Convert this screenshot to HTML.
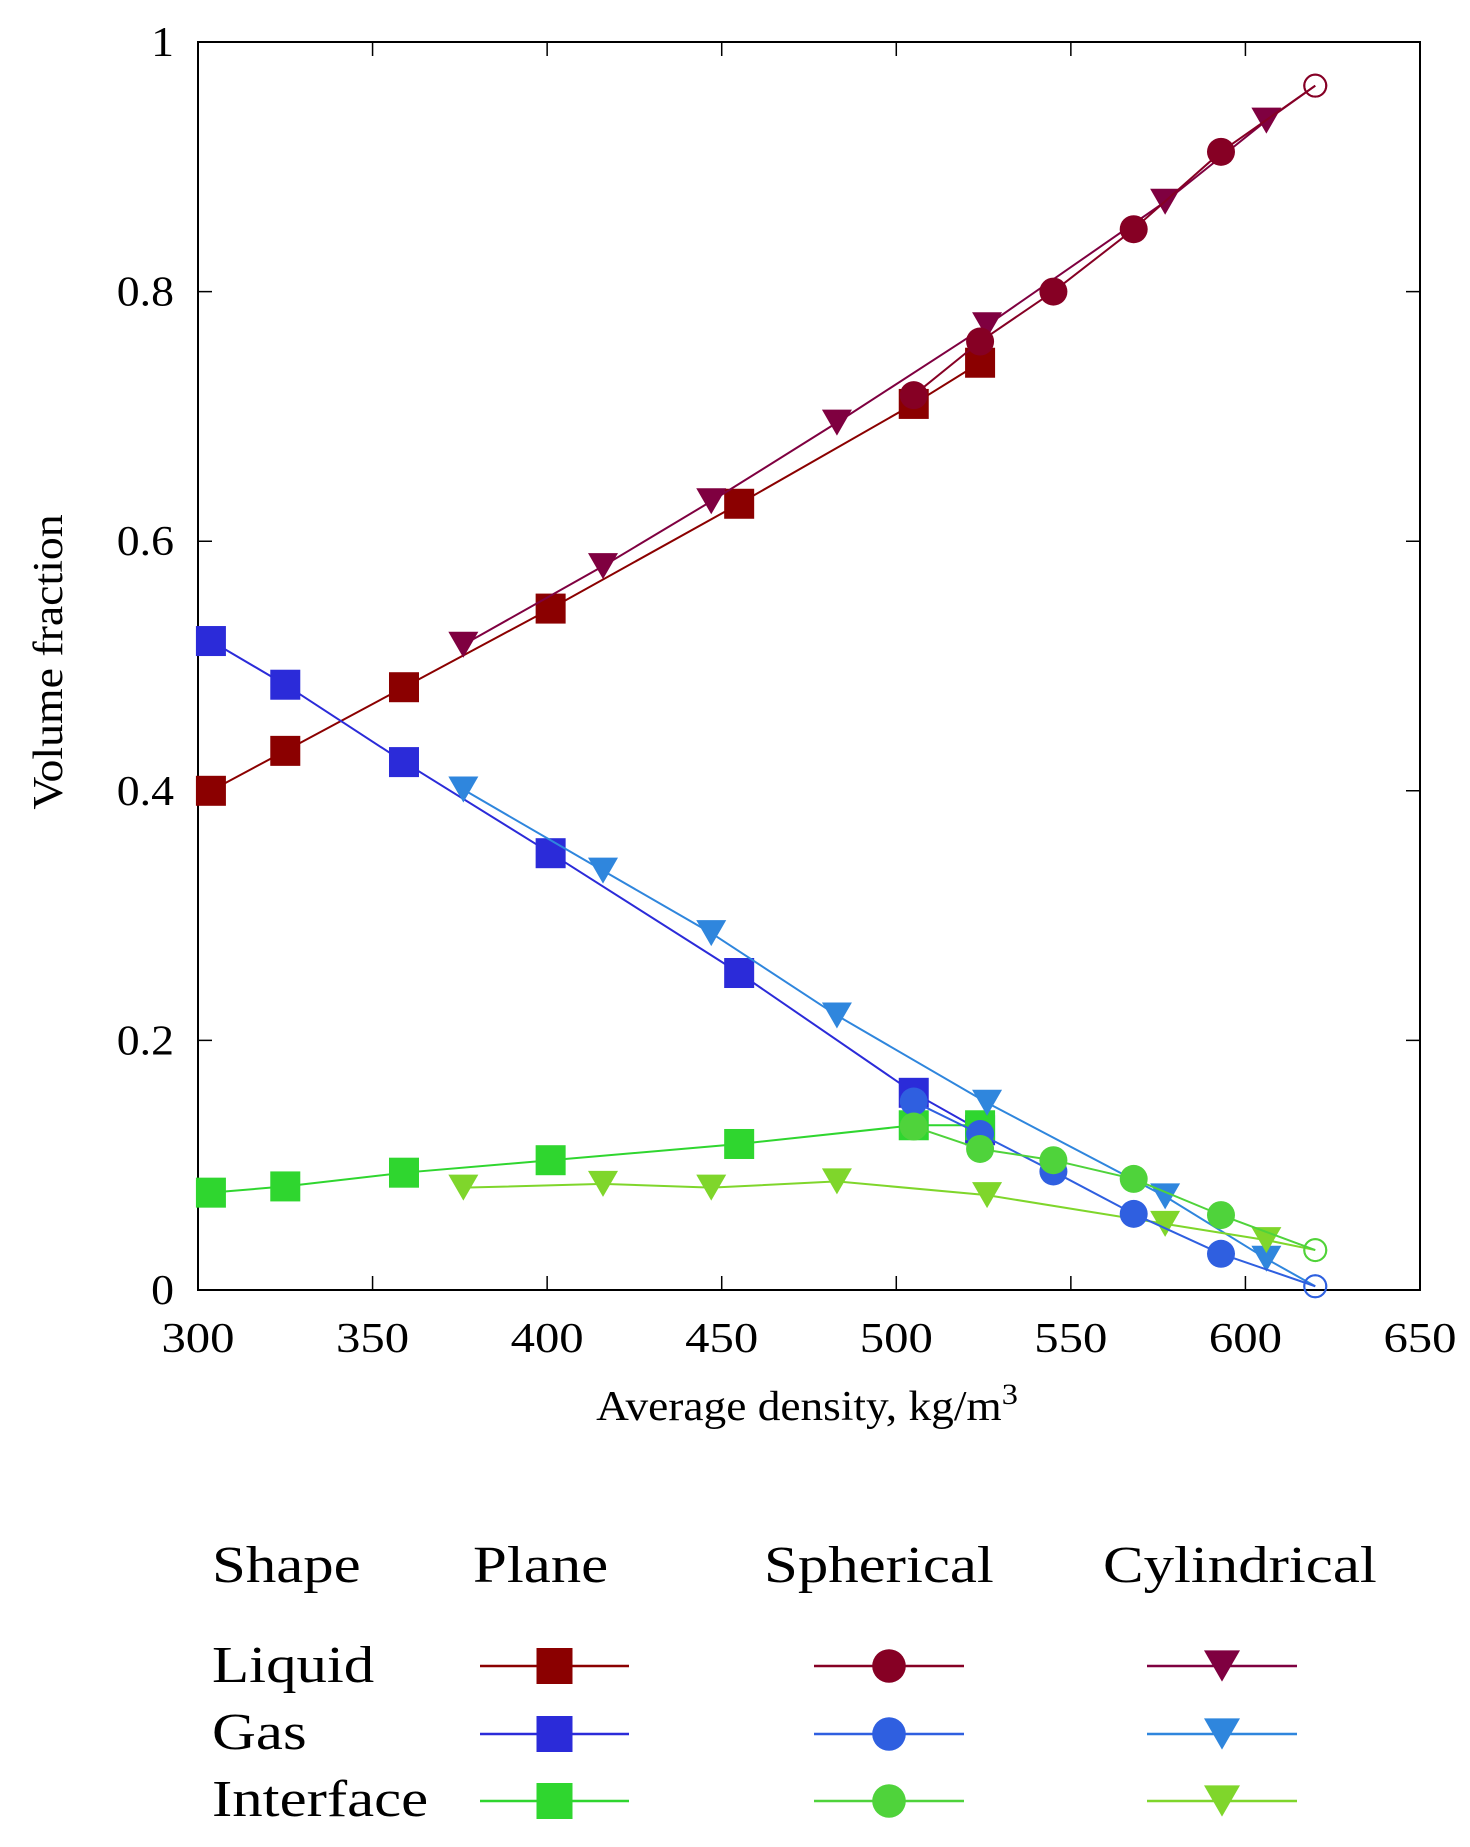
<!DOCTYPE html>
<html><head><meta charset="utf-8"><style>
html,body{margin:0;padding:0;background:#fff;}
svg{display:block;font-family:"Liberation Serif",serif;}
</style></head><body>
<svg id="chart" width="1470" height="1847" viewBox="0 0 1470 1847"></svg>
<script>
const xTicks=[300,350,400,450,500,550,600,650];
const yTicks=[0,0.2,0.4,0.6,0.8,1];
const yTickLabels=["0","0.2","0.4","0.6","0.8","1"];
const planeX=[303.7,325,359,401,455,505,524];
const planeLiquid=[0.400,0.432,0.483,0.546,0.630,0.710,0.743];
const planeGas=[0.520,0.485,0.423,0.350,0.254,0.158,0.128];
const planeInterface=[0.078,0.083,0.094,0.104,0.117,0.132,0.132];
const sphX=[505,524,545,568,593];
const sphLiquid=[0.717,0.760,0.800,0.850,0.912];
const sphGas=[0.151,0.125,0.095,0.061,0.029];
const sphInterface=[0.131,0.113,0.104,0.089,0.060];
const cylX=[376,416,447,483,526,577,606];
const cylLiquid=[0.517,0.580,0.632,0.695,0.773,0.872,0.937];
const cylGas=[0.401,0.336,0.286,0.220,0.150,0.075,0.025];
const cylInterface=[0.082,0.085,0.082,0.087,0.076,0.053,0.040];
const endX=620;
const endLiquid=0.965, endGas=0.003, endInterface=0.032;

const NS="http://www.w3.org/2000/svg";
const svg=document.getElementById('chart');
const L=198,R=1420,T=42,B=1290;
const sx=v=>L+(v-300)/(650-300)*(R-L);
const sy=v=>B-v*(B-T);
function mk(tag,attrs,parent){const e=document.createElementNS(NS,tag);for(const k in attrs)e.setAttribute(k,attrs[k]);(parent||svg).appendChild(e);return e;}
function widen(t,f){const w=t.getComputedTextLength();t.setAttribute('textLength',w*f);t.setAttribute('lengthAdjust','spacingAndGlyphs');}

const frame=mk('rect',{x:L,y:T,width:R-L,height:B-T,fill:'none',stroke:'#000','stroke-width':2});


xTicks.forEach(v=>{
  const x=sx(v);
  const t=mk('path',{d:`M${x},${B}v-14M${x},${T}v14`,stroke:'#000','stroke-width':1.5});
  
  
  const lb=mk('text',{x:x,y:1352,'text-anchor':'middle','font-size':42});
  lb.textContent=v;
  
  
  widen(lb,1.16);
});
yTicks.forEach((v,i)=>{
  const y=sy(v);
  const t=mk('path',{d:`M${L},${y}h14M${R},${y}h-14`,stroke:'#000','stroke-width':1.5});
  
  
  const lb=mk('text',{x:174,y:y+14,'text-anchor':'end','font-size':42});
  lb.textContent=yTickLabels[i];
  
  
  widen(lb,1.09);
});
const xt=mk('text',{x:807,y:1420,'text-anchor':'middle','font-size':42});
xt.innerHTML='Average density, kg/m<tspan dy="-16" font-size="30">3</tspan>';


widen(xt,1.08);
const yt=mk('text',{x:0,y:0,'text-anchor':'middle','font-size':42,transform:'translate(62,662) rotate(-90)'});
yt.textContent='Volume fraction';


widen(yt,1.09);

function marker(shape,x,y,c,g,open,s){
  s=s||1;
  let e;
  if(shape==='sq') e=mk('rect',{x:x-15*s,y:y-15*s,width:30*s,height:30*s,fill:c},g);
  else if(shape==='ci') e=mk('circle',{cx:x,cy:y,r:open?11:14*s,fill:open?'none':c,stroke:open?c:'none','stroke-width':2},g);
  else e=mk('path',{d:`M${x-15*s},${y-13*s}h${30*s}l${-15*s},${26*s}z`,fill:c},g);
  return e;
}
function series(name,xs,ys,c,shape,end){
  const g=mk('g',{});
  
  
  const pts=xs.map((x,i)=>[sx(x),sy(ys[i])]);
  if(end!==undefined) pts.push([sx(endX),sy(end)]);
  const ln=mk('polyline',{points:pts.map(p=>p.join(',')).join(' '),fill:'none',stroke:c,'stroke-width':2},g);
  
  
  xs.forEach((x,i)=>{
    const m=marker(shape,sx(x),sy(ys[i]),c,g);
    
    
  });
  if(end!==undefined){
    const m=marker('ci',sx(endX),sy(end),c,g,true);
    
    
  }
}
const C={pl:'#8b0000',pg:'#2b2bd9',pi:'#2fd62f',sl:'#860024',sg:'#2f5fe0',si:'#4fd33b',cl:'#7f0040',cg:'#2f86dd',ci:'#7fd62b'};
series('plane-liquid',planeX,planeLiquid,C.pl,'sq');
series('plane-gas',planeX,planeGas,C.pg,'sq');
series('plane-interface',planeX,planeInterface,C.pi,'sq');
series('cyl-liquid',cylX,cylLiquid,C.cl,'tr',endLiquid);
series('cyl-gas',cylX,cylGas,C.cg,'tr',endGas);
series('cyl-interface',cylX,cylInterface,C.ci,'tr',endInterface);
series('sph-liquid',sphX,sphLiquid,C.sl,'ci',endLiquid);
series('sph-gas',sphX,sphGas,C.sg,'ci',endGas);
series('sph-interface',sphX,sphInterface,C.si,'ci',endInterface);

// legend
const lg=mk('g',{});


[['Shape',212],['Plane',473],['Spherical',764],['Cylindrical',1103]].forEach(h=>{
  const t=mk('text',{x:h[1],y:1582,'font-size':52},lg);t.textContent=h[0];
  
  
  widen(t,1.17);
});
const rows=[['Liquid',1682,1666,[C.pl,C.sl,C.cl]],['Gas',1749,1734,[C.pg,C.sg,C.cg]],['Interface',1816,1801,[C.pi,C.si,C.ci]]];
const cols=[[480,629,'sq'],[814,964,'ci'],[1147,1297,'tr']];
rows.forEach(r=>{
  const t=mk('text',{x:212,y:r[1],'font-size':52},lg);t.textContent=r[0];
  
  
  widen(t,1.17);
  cols.forEach((c,j)=>{
    const e=mk('path',{d:`M${c[0]},${r[2]}H${c[1]}`,stroke:r[3][j],'stroke-width':2.5},lg);
    
    
    const m=marker(c[2],(c[0]+c[1])/2,r[2],r[3][j],lg,false,1.2);
    
    
  });
});
</script>
</body></html>
